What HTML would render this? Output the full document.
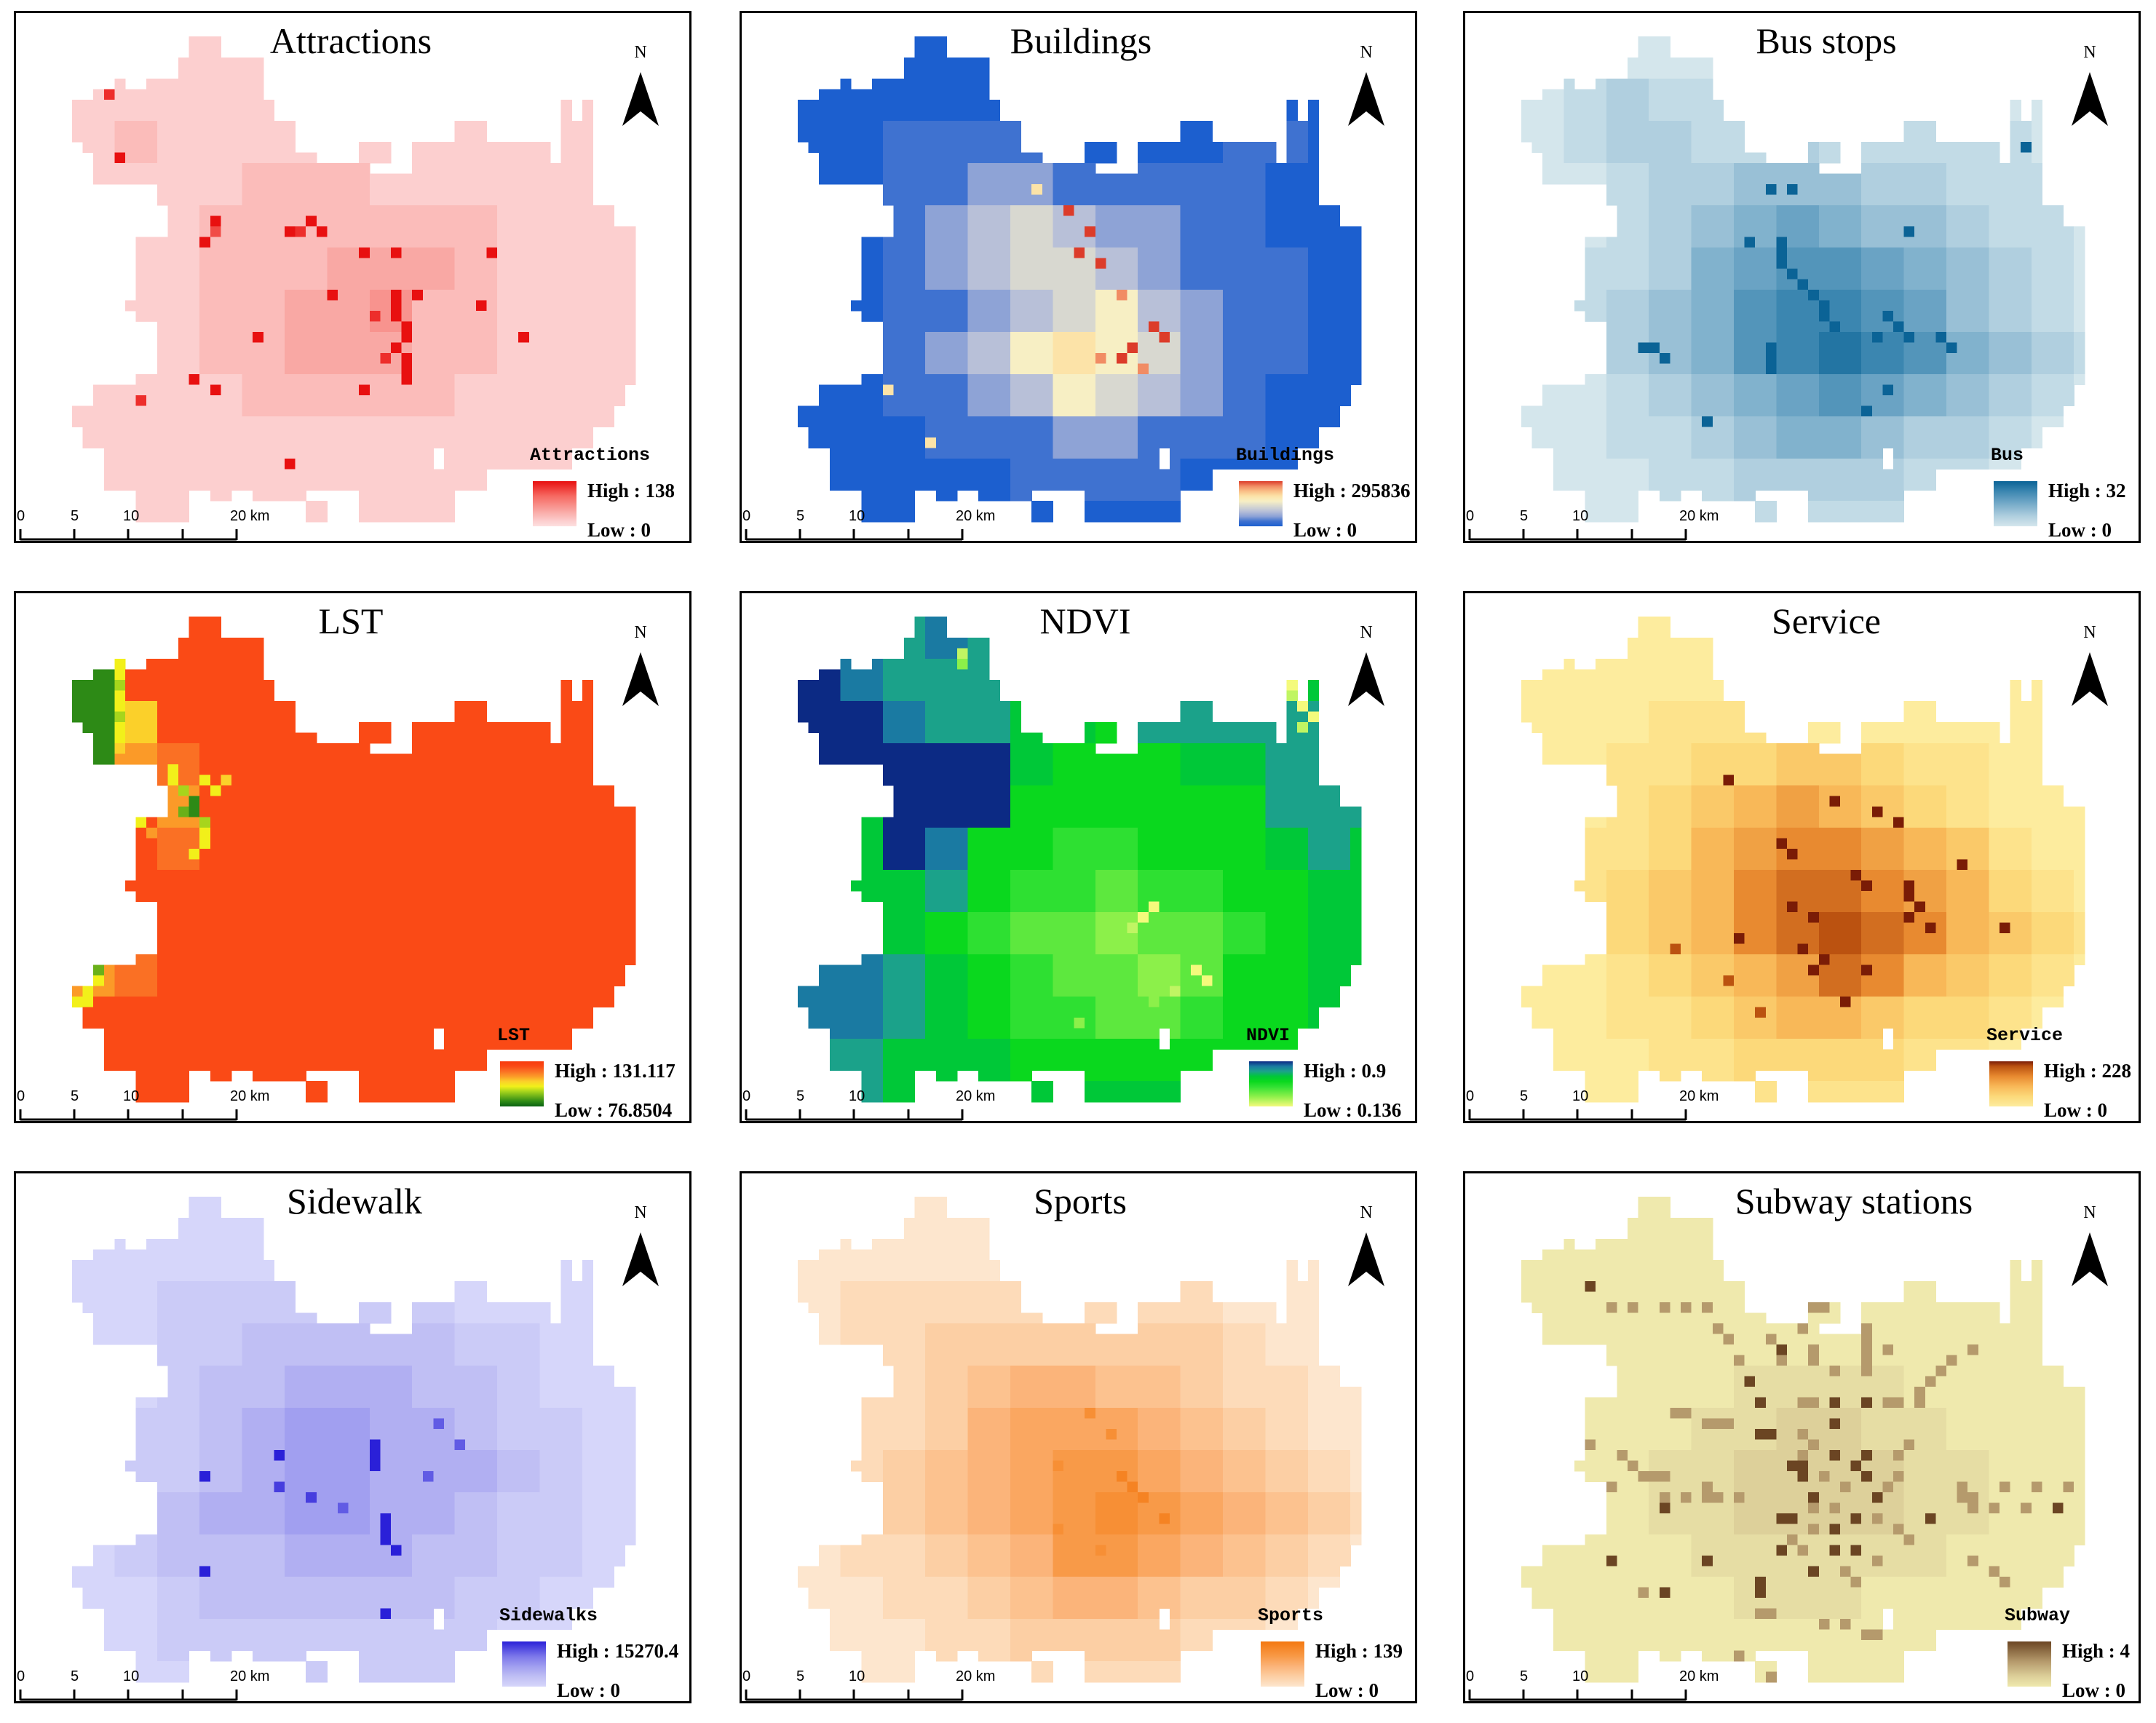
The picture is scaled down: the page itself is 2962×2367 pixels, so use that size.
<!DOCTYPE html>
<html><head><meta charset="utf-8"><style>
html,body{margin:0;padding:0;background:#fff;}
svg{display:block;}
.ttl{font-family:"Liberation Serif",serif;font-size:50px;fill:#000;}
.lg{font-family:"Liberation Serif",serif;font-weight:bold;font-size:27px;fill:#000;}
.lgt{font-family:"Liberation Mono",monospace;font-weight:bold;font-size:25px;fill:#000;}
.sb{font-family:"Liberation Sans",sans-serif;font-size:20px;fill:#000;}
.nn{font-family:"Liberation Serif",serif;font-size:24px;fill:#000;}
</style></head><body>
<svg id="fig" width="2962" height="2367" viewBox="0 0 2962 2367" xmlns="http://www.w3.org/2000/svg"></svg>
<script>
// ---- data ----
const maskRows=[[[11,14]],[[11,14]],[[10,18]],[[10,18]],[[4,5],[7,18]],[[2,18]],
[[0,19],[46,47],[48,49]],[[0,19],[46,47],[48,49]],[[0,21],[36,39],[46,49]],[[0,21],[36,39],[46,49]],
[[1,21],[27,30],[32,45],[46,49]],[[2,23],[27,30],[32,45],[46,49]],[[2,28],[32,49]],[[2,49]],
[[8,49]],[[8,49]],[[9,51]],[[9,51]],[[9,53]],[[6,53]],[[6,53]],[[6,53]],[[6,53]],[[6,53]],[[6,53]],
[[5,53]],[[6,53]],[[8,53]],[[8,53]],[[8,53]],[[8,53]],[[8,53]],[[6,53]],[[2,52]],[[2,52]],
[[0,51]],[[0,51]],[[1,49]],[[1,49]],[[3,34],[35,47]],[[3,34],[35,47]],[[3,39]],[[3,39]],
[[6,11],[13,15],[17,22],[27,36]],[[6,11],[22,24],[27,36]],[[6,11],[22,24],[27,36]]];

const titles=["Attractions","Buildings","Bus stops","LST","NDVI","Service","Sidewalk","Sports","Subway stations"];
const legendTitles=["Attractions","Buildings","Bus","LST","NDVI","Service","Sidewalks","Sports","Subway"];
const highLabels=["High : 138","High : 295836","High : 32","High : 131.117","High : 0.9","High : 228","High : 15270.4","High : 139","High : 4"];
const lowLabels=["Low : 0","Low : 0","Low : 0","Low : 76.8504","Low : 0.136","Low : 0","Low : 0","Low : 0","Low : 0"];
const scaleLabels=["0","5","10","20 km"];

const gridAttractions=["11111111111111","11111111111111","12111111111111","11112221111111","11122222221111","11122233321111","11122334221111","11122333221111","11112222211111","11111111111111","11111111111111","11111111111111"];
const gridBuildings=["00000000000000","00000000000000","00111100001100","00112211111000","00123432211000","00123443211100","00112345321100","00123565421100","00112354321000","00011122111000","00000111100000","00000000000000"];
const gridBus=["00000000000000","01211100000000","01221121111100","00122333221110","00123454332110","01124566543210","01234677653210","01234678764321","00123456543210","00112344322100","00011222211000","00001111100000"];
const gridLST=["88888888888888","18888888888888","15888888888888","16788888888888","88688888888888","88788888888888","88888888888888","88888888888888","67888888888888","88888888888888","88888888888888","88888888888888"];
const gridNDVI=["77787666666666","98777766677766","99877665777776","99999655566777","66999555555777","66985544555676","66675443445566","66654332334566","88765433235566","88765443345566","77666555555566","77666666666666"];
const gridService=["00000000000000","00000000000000","00011100000000","00112233211000","00123454321000","01124566543100","01234677654210","01234678764321","00123457643210","00112344322100","00011222211000","00001111100000"];
const gridSidewalk=["00000000000000","00000000000000","00111111100000","00112222211000","00122333221000","01123443321100","01123443332100","01233443321100","01222333221100","00122222211000","00111111110000","00011111100000"];
const gridSports=["00000000000000","00000000000000","01111111110000","01122222221000","01123443321100","01124555432100","01234566543210","01234567654321","01123466543210","00112344322100","00011222211000","00001111100000"];
const gridSubway=["00000000000000","00000000000000","00000000000000","00000000000000","00000111100000","00001122110000","00011222211000","00011222211000","00001111110000","00000111000000","00000000000000","00000000000000"];

const hotAttractions=[[5,3,8],[11,4,9],[17,13,9],[19,12,9],[18,13,7],[17,22,9],[18,23,9],[18,20,9],[18,21,8],[20,30,9],[20,27,9],[24,32,9],[24,24,9],[24,30,9],[25,30,9],[26,30,9],[27,31,9],[28,31,9],[29,30,9],[30,31,9],[31,31,9],[32,31,9],[25,38,9],[28,17,9],[28,42,9],[32,11,9],[33,13,9],[33,27,9],[40,20,9],[20,39,9],[34,6,8],[26,28,8],[30,29,8]];
const hotBuildings=[[20,26,9],[21,28,9],[24,30,8],[27,33,9],[28,34,9],[29,31,9],[30,30,9],[30,28,8],[31,32,8],[18,27,9],[16,25,9],[11,26,8],[14,22,6],[33,8,6],[38,12,6]];
const hotBus=[[19,24,9],[20,24,9],[21,24,9],[22,25,9],[23,26,9],[24,27,9],[25,28,9],[26,28,9],[27,29,9],[29,23,9],[30,23,9],[31,23,9],[29,11,9],[29,12,9],[30,13,9],[26,34,9],[27,35,9],[28,36,9],[28,39,9],[29,40,9],[28,33,9],[14,23,9],[14,25,9],[18,36,9],[19,21,9],[33,34,9],[35,32,9],[36,17,9],[10,47,9],[13,49,9]];
const hotLST=[[4,4,4],[5,4,4],[6,4,3],[7,4,4],[8,4,4],[9,4,3],[10,4,4],[11,4,4],[12,4,5],[14,9,4],[15,9,4],[16,10,3],[17,11,1],[18,11,1],[18,10,2],[19,12,3],[20,12,4],[21,12,4],[22,11,4],[19,6,4],[20,7,6],[33,2,2],[34,2,4],[35,1,4],[36,0,4],[32,3,5],[36,1,4],[15,14,5],[16,13,4],[15,12,4]];
const hotNDVI=[[3,15,1],[4,15,2],[6,46,0],[7,46,1],[8,47,0],[9,48,0],[10,47,1],[27,33,0],[28,32,0],[29,31,1],[33,37,0],[34,38,0],[35,35,1],[36,33,2],[38,26,2]];
const hotService=[[15,19,9],[17,29,9],[18,33,9],[19,35,9],[21,24,9],[22,25,9],[24,31,9],[25,32,9],[25,36,9],[26,36,9],[27,37,9],[28,36,9],[29,38,9],[27,25,9],[28,27,9],[30,20,9],[31,26,9],[32,28,9],[33,27,9],[33,32,9],[23,41,9],[29,45,9],[31,14,8],[34,19,8],[36,30,9],[37,22,8]];
const hotSidewalk=[[23,28,9],[24,28,9],[25,28,9],[26,12,9],[27,19,8],[24,19,9],[28,22,8],[30,29,9],[31,29,9],[32,29,9],[33,30,9],[35,12,9],[26,33,7],[29,25,7],[39,29,9],[21,34,7],[23,36,7]];
const hotSports=[[26,30,8],[27,31,8],[28,32,8],[30,34,8],[22,29,7],[20,27,7],[31,24,7],[25,24,7],[33,28,7]];
const hotSubway=[[8,6,9],[10,8,5],[10,10,5],[10,13,5],[10,15,5],[10,17,5],[12,18,5],[13,19,5],[15,20,5],[17,21,9],[14,24,9],[13,23,5],[15,24,5],[14,27,5],[15,27,5],[10,27,5],[10,28,5],[12,26,5],[12,32,5],[13,32,5],[14,32,5],[15,32,5],[16,32,5],[16,29,5],[14,34,5],[14,42,5],[15,40,5],[16,39,5],[17,38,5],[18,37,5],[19,37,5],[19,22,9],[19,29,9],[19,32,9],[19,34,5],[19,35,5],[19,26,5],[19,27,5],[20,14,5],[20,15,5],[21,17,5],[21,18,5],[21,19,5],[22,22,9],[22,23,9],[21,29,9],[23,6,5],[24,9,5],[25,10,5],[26,11,5],[26,12,5],[26,13,5],[27,8,5],[27,17,5],[28,13,5],[28,15,5],[28,17,5],[28,18,5],[28,20,5],[25,25,9],[25,26,9],[26,26,9],[24,29,9],[24,32,9],[25,31,9],[26,32,9],[28,27,9],[28,33,9],[30,24,9],[30,25,9],[30,31,9],[31,29,9],[30,38,9],[27,41,5],[27,45,5],[27,48,5],[27,51,5],[28,41,5],[28,42,5],[29,42,5],[29,44,5],[29,47,5],[29,50,9],[29,13,9],[33,24,9],[33,29,9],[33,31,9],[34,8,9],[34,17,9],[35,27,9],[36,22,9],[37,22,9],[37,13,9],[37,11,5],[34,42,5],[35,44,5],[36,45,5],[39,22,5],[39,23,5],[40,28,5],[40,30,5],[41,32,5],[41,33,5],[43,20,5],[45,23,5],[22,26,5],[23,27,5],[24,26,5],[26,28,5],[27,30,5],[29,27,5],[29,29,5],[30,33,5],[31,35,5],[32,36,5],[27,34,5],[26,35,5],[24,35,5],[23,36,5],[31,27,5],[32,25,5],[33,26,5],[35,30,5],[36,31,5],[34,33,5]];

const rampAttractions=[[0,"#fde0e0"],[1,"#fccfcf"],[3,"#f9a8a4"],[6,"#f66a62"],[9,"#e81010"]];
const rampBuildings=[[0,"#1c5fcf"],[1,"#3f72d0"],[2,"#8ea3d6"],[3,"#b8c0d8"],[4,"#d8d8d0"],[5,"#f7efc4"],[6,"#fce3a8"],[7,"#f9bf86"],[8,"#f18c64"],[9,"#dc3c2a"]];
const rampBus=[[0,"#d4e6ec"],[2,"#b0cfdf"],[5,"#6aa3c4"],[7,"#3b86b0"],[9,"#0b6396"]];
const rampLST=[[0,"#0a6212"],[1,"#2d8a16"],[3,"#a7d51c"],[4,"#f2f01a"],[5,"#fbd02a"],[6,"#fb9a28"],[7,"#fa7024"],[8,"#fa4a16"],[9,"#f83a0c"]];
const rampNDVI=[[0,"#f4fa7c"],[2,"#8cf04a"],[4,"#2ee032"],[5,"#0ad81e"],[6,"#00c838"],[7,"#1ba28a"],[8,"#1a7aa2"],[9,"#0c2a84"]];
const rampService=[[0,"#fdec9e"],[2,"#fcd97a"],[4,"#f8b858"],[6,"#e88a30"],[8,"#bb5210"],[9,"#7a1c06"]];
const rampSidewalk=[[0,"#d6d6fa"],[2,"#c0bff4"],[4,"#a19ff0"],[6,"#7d78ea"],[9,"#2a20d8"]];
const rampSports=[[0,"#fde6ce"],[2,"#fccfa4"],[4,"#fbb47a"],[6,"#f89a48"],[9,"#f47810"]];
const rampSubway=[[0,"#efe9ad"],[2,"#ddd09a"],[5,"#b59a6c"],[9,"#6b4523"]];

const grids=[gridAttractions,gridBuildings,gridBus,gridLST,gridNDVI,gridService,gridSidewalk,gridSports,gridSubway];
const hots=[hotAttractions,hotBuildings,hotBus,hotLST,hotNDVI,hotService,hotSidewalk,hotSports,hotSubway];
const ramps=[rampAttractions,rampBuildings,rampBus,rampLST,rampNDVI,rampService,rampSidewalk,rampSports,rampSubway];

// ---- layout ----
const NS="http://www.w3.org/2000/svg";
const fig=document.getElementById("fig");
const panelX=[19,1016,2010], panelY=[15,812,1609], PW=931, PH=731;
const titleX=[463,469,499,463,475,499,468,468,537];
const legBoxX=[713,686,729,668,700,723,671,716,748];
const CW=14.6, CH=14.5, MX=80, MY=35;
function xPos(c){return MX+c*CW;}
function yPos(r){return MY+r*CH;}
function hex(h){return [parseInt(h.substr(1,2),16),parseInt(h.substr(3,2),16),parseInt(h.substr(5,2),16)];}
function colorOf(ramp,v){
  if(v<=ramp[0][0])return ramp[0][1];
  for(let i=1;i<ramp.length;i++){
    if(v<=ramp[i][0]){const a=hex(ramp[i-1][1]),b=hex(ramp[i][1]);const t=(v-ramp[i-1][0])/(ramp[i][0]-ramp[i-1][0]);
      return "rgb("+a.map((x,k)=>Math.round(x+(b[k]-x)*t)).join(",")+")";}
  }
  return ramp[ramp.length-1][1];
}
function mk(tag,attrs,parent){const e=document.createElementNS(NS,tag);for(const k in attrs)e.setAttribute(k,attrs[k]);parent.appendChild(e);return e;}
const defs=mk("defs",{},fig);

for(let p=0;p<9;p++){
  const px=panelX[p%3], py=panelY[Math.floor(p/3)];
  const g=mk("g",{transform:"translate("+px+","+py+")"},fig);
  
  
  const frame=mk("rect",{x:1.5,y:1.5,width:PW-3,height:PH-3,fill:"#fff",stroke:"#000","stroke-width":3},g);
  
  
  const rg=mk("g",{"shape-rendering":"crispEdges"},g);
  
  
  const hmap={};
  hots[p].forEach(h=>{hmap[h[0]+"_"+h[1]]=h[2];});
  for(let r=0;r<maskRows.length;r++){
    maskRows[r].forEach(seg=>{
      for(let c=seg[0];c<seg[1];c++){
        const row=grids[p][Math.floor(r/4)]||"";
        let v=parseInt(row[Math.floor(c/4)]||"0");
        const k=r+"_"+c;
        if(k in hmap)v=hmap[k];
        const cell=mk("rect",{x:xPos(c).toFixed(1),y:yPos(r).toFixed(1),width:CW+0.6,height:CH+0.6,fill:colorOf(ramps[p],v)},rg);
        
        
      }
    });
  }
  const t=mk("text",{x:titleX[p],y:58,"text-anchor":"middle",class:"ttl"},g);
  t.textContent=titles[p];
  
  
  const n=mk("text",{x:861,y:64,"text-anchor":"middle",class:"nn"},g);
  n.textContent="N";
  
  
  const ar=mk("polygon",{points:"861,84 836,158 861,138 886,158",fill:"#000"},g);
  
  
  const gid="lg"+p;
  const lgd=mk("linearGradient",{id:gid,x1:0,y1:0,x2:0,y2:1},defs);
  const rp=ramps[p];
  for(let i=rp.length-1;i>=0;i--){mk("stop",{offset:(1-rp[i][0]/9).toFixed(3),"stop-color":rp[i][1]},lgd);}
  const bx=legBoxX[p];
  const lt=mk("text",{x:bx-4,y:617,class:"lgt"},g);
  lt.textContent=legendTitles[p];
  
  
  const lb=mk("rect",{x:bx,y:646,width:60,height:62,fill:"url(#"+gid+")"},g);
  
  
  const hi=mk("text",{x:bx+75,y:668,class:"lg"},g);
  hi.textContent=highLabels[p];
  
  
  const lo=mk("text",{x:bx+75,y:722,class:"lg"},g);
  lo.textContent=lowLabels[p];
  
  
  const sb=mk("g",{},g);
  
  
  mk("line",{x1:9,y1:726,x2:306,y2:726,stroke:"#000","stroke-width":3},sb);
  [9,83,157,232,306].forEach(x=>mk("line",{x1:x,y1:712,x2:x,y2:727,stroke:"#000","stroke-width":3},sb));
  [4,78,150,297].forEach((x,i)=>{const s=mk("text",{x:x,y:700,class:"sb"},sb);s.textContent=scaleLabels[i];});
}
</script>
</body></html>
